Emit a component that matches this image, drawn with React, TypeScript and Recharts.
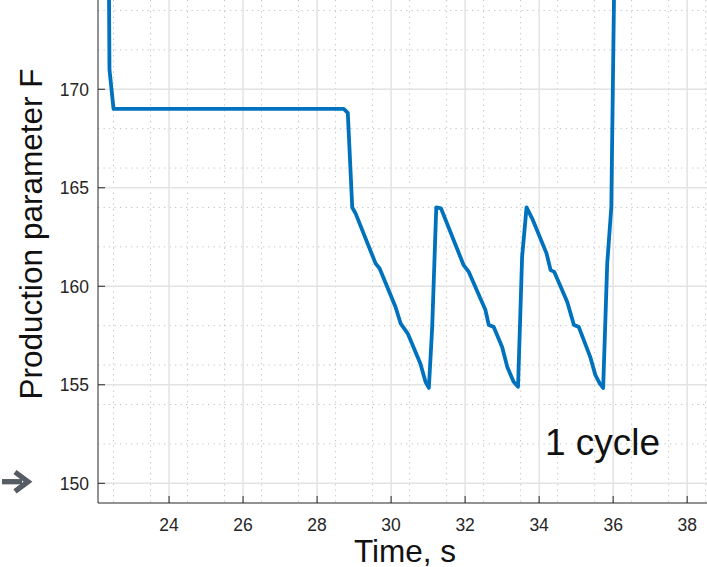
import { LineChart, Line, XAxis, YAxis, CartesianGrid } from 'recharts';

// Sampled trace (time in s, production parameter F)
const time = [
  22.36, 22.39, 22.5, 28.72, 28.83, 28.95, 29.04, 29.58, 29.69, 30.12, 30.26, 30.45, 30.79, 30.93,
  31.02, 31.11, 31.22, 31.35, 31.96, 32.1, 32.55, 32.64, 32.77, 33.0, 33.14, 33.31, 33.43, 33.54,
  33.66, 33.81, 34.2, 34.31, 34.41, 34.76, 34.94, 35.07, 35.38, 35.52, 35.64, 35.73, 35.84, 35.95,
  36.06,
];
const param = [
  180, 171, 169, 169, 168.8, 164, 163.7, 161.16, 160.9, 158.95, 158.1, 157.6, 156.08, 155.15,
  154.84, 157.9, 164, 163.95, 161.07, 160.73, 158.79, 158.03, 157.94, 156.92, 155.9, 155.15, 154.9, 161.5,
  164, 163.45, 161.67, 160.82, 160.73, 159.2, 158.03, 157.94, 156.42, 155.49, 155.06, 154.84, 161.16, 164,
  180,
];

const xTicks = [24, 26, 28, 30, 32, 34, 36, 38];
const yTicks = [150, 155, 160, 165, 170];

const X_DOMAIN = [22.08, 38.59];
const Y_DOMAIN = [149, 174.53];

const xMinor: number[] = [];
for (let v = 22.5; v <= 38.5; v += 0.5) xMinor.push(v);
const yMinor: number[] = [];
for (let v = 150; v <= 174; v += 1) yMinor.push(v);

const data = time.map((t, i) => ({ t, f: param[i] }));

const FONT = '"Liberation Sans", Arial, Helvetica, sans-serif';
const AXIS = '#262626';
const TICK_SIZE = 17.5;

const XTick = ({ x, y, payload }: any) => (
  <text x={x} y={y} dy="0.71em" textAnchor="middle" fontSize={TICK_SIZE} fontFamily={FONT} fill={AXIS}>
    {payload.value}
  </text>
);

const YTick = ({ x, y, payload }: any) => (
  <text x={x} y={y} dy="0.36em" textAnchor="end" fontSize={TICK_SIZE} fontFamily={FONT} fill={AXIS}>
    {payload.value}
  </text>
);

export default function App() {
  return (
    <div style={{ position: 'relative', width: 707, height: 567, overflow: 'hidden', background: '#fff' }}>
      <style>{`body{margin:0}`}</style>
      <LineChart
        width={720}
        height={567}
        data={data}
        margin={{ top: 0, right: 11, bottom: 0, left: 0 }}
        style={{ fontFamily: FONT }}
      >
        <CartesianGrid
          verticalValues={xMinor}
          horizontalValues={yMinor}
          stroke="#c4c4c4"
          strokeDasharray="1.3 4.2"
          strokeWidth={1}
        />
        <CartesianGrid
          verticalValues={xTicks}
          horizontalValues={yTicks}
          stroke="#e3e3e3"
          strokeWidth={1.5}
        />
        <XAxis
          dataKey="t"
          type="number"
          domain={X_DOMAIN}
          allowDataOverflow
          ticks={xTicks}
          height={64}
          tickSize={-7}
          tickMargin={22.7}
          stroke={AXIS}
          tick={<XTick />}
        />
        <YAxis
          type="number"
          domain={Y_DOMAIN}
          allowDataOverflow
          ticks={yTicks}
          width={98}
          tickSize={-7}
          tickMargin={16}
          stroke={AXIS}
          tick={<YTick />}
        />
        <Line
          dataKey="f"
          type="linear"
          stroke="#0072BD"
          strokeWidth={3.8}
          strokeLinejoin="round"
          dot={false}
          isAnimationActive={false}
        />
      </LineChart>
      <svg
        width={707}
        height={567}
        style={{ position: 'absolute', left: 0, top: 0, pointerEvents: 'none', fontFamily: FONT }}
      >
        <text transform="translate(42,234) rotate(-90)" textAnchor="middle" fontSize={31.5} fill="#111">
          Production parameter F
        </text>
        <text x={405} y={561.5} textAnchor="middle" fontSize={31.5} fill="#111">
          Time, s
        </text>
        <text x={545} y={455} fontSize={37} fill="#111">
          1 cycle
        </text>
        <g stroke="#555c63" strokeWidth={5.3} fill="none">
          <line x1={2} y1={481.7} x2={22} y2={481.7} />
          <polyline points="15,472 28,481.7 15,491.4" strokeLinejoin="miter" />
        </g>
      </svg>
    </div>
  );
}
